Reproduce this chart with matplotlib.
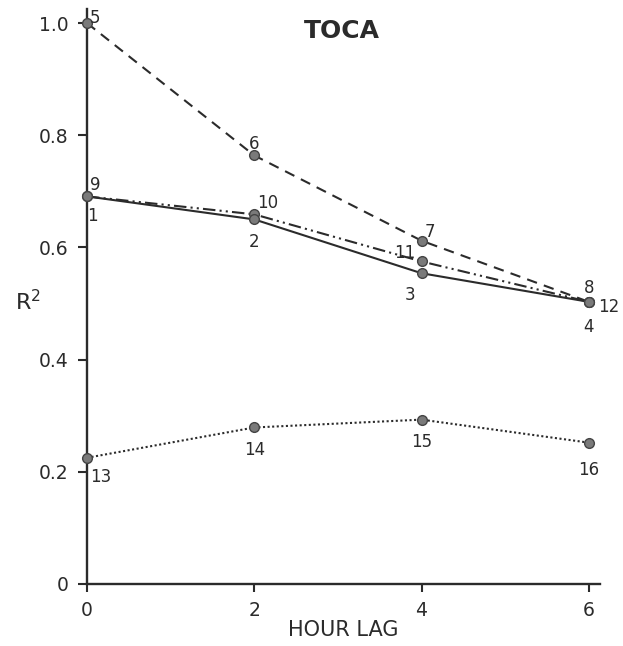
import matplotlib
matplotlib.use('Agg')
import matplotlib.pyplot as plt

# hour lag values and R^2 for the four series
lags = [0, 2, 4, 6]
r2_solid = [0.691, 0.650, 0.554, 0.503]
r2_dashed = [1.0, 0.764, 0.612, 0.503]
r2_dashdot = [0.691, 0.659, 0.575, 0.503]
r2_dotted = [0.225, 0.279, 0.293, 0.252]

ids_solid = ['1', '2', '3', '4']
ids_dashed = ['5', '6', '7', '8']
ids_dashdot = ['9', '10', '11', '12']
ids_dotted = ['13', '14', '15', '16']

plt.rcParams['font.family'] = ['DejaVu Sans']
ink = '#2b2b2b'

fig = plt.figure(figsize=(6.23, 6.46), dpi=100)
ax = fig.add_axes([0.1396, 0.096, 0.823, 0.89])

series = [
    (r2_dashed, ids_dashed, (0, (5, 3.5)),
     [(6, 4), (0, 8), (6, 6), (0, 10)]),
    (r2_dashdot, ids_dashdot, (0, (6, 2, 1, 2, 1, 2)),
     [(6, 8), (10, 8), (-12, 6), (14, -4)]),
    (r2_solid, ids_solid, '-',
     [(4, -14), (0, -16), (-8, -16), (0, -18)]),
    (r2_dotted, ids_dotted, (0, (1, 1.2)),
     [(10, -14), (0, -16), (0, -16), (0, -20)]),
]

for vals, ids, ls, offs in series:
    ax.plot(lags, vals, linestyle=ls, color=ink, linewidth=1.5,
            marker='o', markersize=7, markerfacecolor='#7a7a7a',
            markeredgecolor='#444444', markeredgewidth=1.0,
            clip_on=False, zorder=3)
    for x, y, t, (dx, dy) in zip(lags, vals, ids, offs):
        ax.annotate(t, (x, y), xytext=(dx, dy), textcoords='offset points',
                    ha='center', va='center', fontsize=12, color=ink)

ax.set_xlim(0, 6.13)
ax.set_ylim(0, 1.025)
ax.set_xticks(lags)
ax.set_yticks([0, 0.2, 0.4, 0.6, 0.8, 1.0])
ax.set_yticklabels(['0', '0.2', '0.4', '0.6', '0.8', '1.0'])

for side in ['top', 'right']:
    ax.spines[side].set_visible(False)
for side in ['left', 'bottom']:
    ax.spines[side].set_linewidth(1.7)
    ax.spines[side].set_color(ink)

ax.tick_params(axis='y', direction='out', length=6.5, width=1.5, colors=ink,
               labelsize=13.5, pad=7)
ax.tick_params(axis='x', direction='out', length=6, width=1.5, colors=ink,
               labelsize=13.5, pad=6)

ax.set_xlabel('HOUR LAG', fontsize=15, color=ink, labelpad=0)
ax.set_ylabel('R$^2$', fontsize=16, color=ink, rotation=0)
ax.yaxis.set_label_coords(-0.115, 0.47)
ax.text(3.05, 0.985, 'TOCA', fontsize=18, fontweight='bold', color=ink,
        ha='center', va='center')

fig.savefig('out.png', dpi=100)
plt.close(fig)
